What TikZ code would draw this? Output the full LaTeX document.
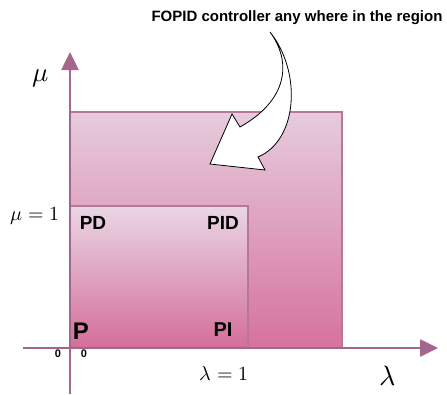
\documentclass[tikz,border=0pt]{standalone}
\usepackage{fontspec}
\setmainfont{Liberation Sans}
\usepackage{unicode-math}
\setmathfont{Latin Modern Math}
\usetikzlibrary{arrows.meta}
\definecolor{axiscol}{RGB}{165,102,140}
\definecolor{edgecol}{RGB}{180,120,155}
\definecolor{bigtop}{RGB}{230,204,221}
\definecolor{bigbot}{RGB}{214,114,156}
\definecolor{smalltop}{RGB}{234,214,228}
\definecolor{smallbot}{RGB}{212,110,152}
\tikzset{
  axisline/.style={draw=axiscol, line width=2.6pt, -{Triangle[length=18pt,width=17pt]}},
  region/.style={draw=edgecol, line width=1.2pt},
  lab/.style={font=\bfseries\fontsize{19}{22}\selectfont, inner sep=0pt},
  zero/.style={font=\bfseries\fontsize{11}{13}\selectfont, inner sep=0pt},
  mathlab/.style={font=\fontsize{20}{24}\selectfont, inner sep=0pt},
}
\begin{document}
\begin{tikzpicture}[x=1pt,y=-1pt]
\useasboundingbox[fill=white] (0,0) rectangle (447,394);
% regions
\path[region, top color=bigtop, bottom color=bigbot] (70,112) rectangle (342,348);
\path[region, top color=smalltop, bottom color=smallbot] (70,206) rectangle (248,348);
% axes
\coordinate (ybot) at (70,394);
\coordinate (ytop) at (70,52);
\coordinate (xleft) at (23,348);
\coordinate (xright) at (438,348);
\draw[axisline] (ybot) -- (ytop);
\draw[axisline] (xleft) -- (xright);
% labels
\node[mathlab, font=\fontsize{27}{30}\selectfont] (mu) at (41,78) {$\mu$};
\node[mathlab] (mu1) at (35,216) {$\mu=1$};
\node[mathlab] (lam1) at (224,374) {$\lambda=1$};
\node[mathlab, font=\fontsize{28}{32}\selectfont] (lam) at (388,376) {$\lambda$};
\node[lab] (pd) at (93,223) {PD};
\node[lab] (pid) at (223,223) {PID};
\node[lab, font=\bfseries\fontsize{24}{28}\selectfont] (p) at (81,331) {P};
\node[lab, font=\bfseries\fontsize{20}{24}\selectfont] (pi) at (223,330) {PI};
\node[zero] (z1) at (58,354) {0};
\node[zero] (z2) at (84,354) {0};
\node[font=\bfseries\fontsize{15}{18}\selectfont, inner sep=0pt] (title) at (297,18) {FOPID controller any where in the region};
% curved arrow
\draw[black, line width=0.8pt, fill=white, line join=miter]
  (270,32) .. controls (302,72) and (298,140) .. (258,157)
  -- (265,170) -- (210,164) -- (232,114) -- (240,127)
  .. controls (288,100) and (292,62) .. (270,32) -- cycle;
\end{tikzpicture}
\end{document}
